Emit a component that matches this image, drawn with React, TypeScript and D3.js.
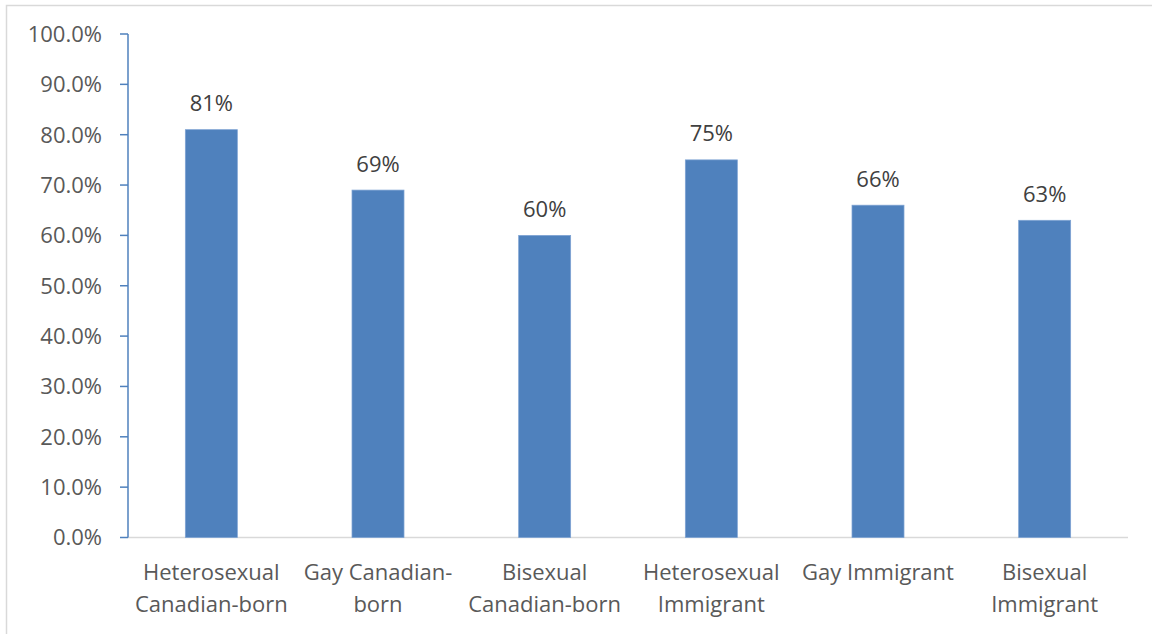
import React from "react";
import * as d3 from "d3";

const categories: string[][] = [
  ["Heterosexual", "Canadian-born"],
  ["Gay Canadian-", "born"],
  ["Bisexual", "Canadian-born"],
  ["Heterosexual", "Immigrant"],
  ["Gay Immigrant"],
  ["Bisexual", "Immigrant"],
];
const values: number[] = [81, 69, 60, 75, 66, 63];
const dataLabels: string[] = ["81%", "69%", "60%", "75%", "66%", "63%"];
const yTicks: number[] = [0, 10, 20, 30, 40, 50, 60, 70, 80, 90, 100];

const W = 1152;
const H = 634;
const left = 128;
const right = 1128;
const top = 34;
const bottom = 537.5;
const FONT = "'Open Sans', 'Noto Sans', sans-serif";
const FS = 22;

export default function App() {
  const x = d3
    .scaleBand<number>()
    .domain(values.map((_, i) => i))
    .range([left, right])
    .paddingInner(0.688)
    .paddingOuter(0.344);
  const y = d3.scaleLinear().domain([0, 100]).range([bottom, top]);

  return (
    <svg
      width={W}
      height={H}
      style={{ position: "absolute", left: 0, top: 0, background: "#fff" }}
    >
      <rect x={0} y={0} width={W} height={H} fill="#fff" />
      <path d={`M6.5,${H} V5.5 H${W}`} fill="none" stroke="#d9d9d9" strokeWidth={1.5} />
      {/* x axis line */}
      <line x1={left} x2={right} y1={bottom} y2={bottom} stroke="#d9d9d9" strokeWidth={1.5} />
      {/* bars */}
      {values.map((v, i) => (
        <rect
          key={i}
          x={x(i)!}
          y={y(v)}
          width={x.bandwidth()}
          height={y(0) - y(v)}
          fill="#4f81bd"
          stroke="#7ea3d3"
          strokeWidth={0.75}
        />
      ))}
      {/* data labels */}
      {values.map((v, i) => (
        <text
          key={i}
          x={x(i)! + x.bandwidth() / 2}
          y={y(v) - 18.5}
          textAnchor="middle"
          fontFamily={FONT}
          fontSize={FS}
          fill="#404040"
        >
          {dataLabels[i]}
        </text>
      ))}
      {/* y axis */}
      <line x1={left} x2={left} y1={top} y2={bottom} stroke="#4f81bd" strokeWidth={1.5} />
      {yTicks.map((t) => (
        <g key={t}>
          <line x1={left - 8} x2={left} y1={y(t)} y2={y(t)} stroke="#4f81bd" strokeWidth={1.5} />
          <text
            x={left - 26}
            y={y(t)}
            dy="0.36em"
            textAnchor="end"
            fontFamily={FONT}
            fontSize={FS}
            fill="#595959"
          >
            {t.toFixed(1) + "%"}
          </text>
        </g>
      ))}
      {/* category labels */}
      {categories.map((lines, i) => (
        <text
          key={i}
          textAnchor="middle"
          fontFamily={FONT}
          fontSize={FS}
          fill="#595959"
        >
          {lines.map((ln, j) => (
            <tspan key={j} x={x(i)! + x.bandwidth() / 2} y={580 + j * 32}>
              {ln}
            </tspan>
          ))}
        </text>
      ))}
    </svg>
  );
}
